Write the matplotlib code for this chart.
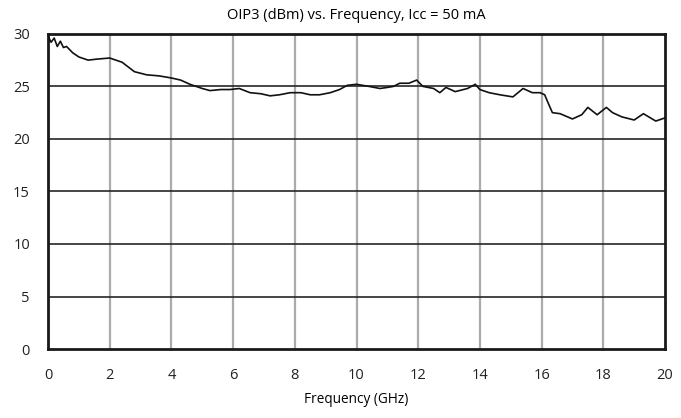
import matplotlib
matplotlib.use('Agg')
import matplotlib.pyplot as plt

# OIP3 vs frequency
freq = [0.0, 0.1, 0.2, 0.3, 0.4, 0.5, 0.6, 0.7, 0.8, 1.0, 1.3, 1.6, 2.0,
        2.4, 2.8, 3.2, 3.6, 4.0, 4.3, 4.6, 5.0, 5.25, 5.6, 5.9, 6.2, 6.55,
        6.9, 7.2, 7.5, 7.85, 8.2, 8.5, 8.8, 9.15, 9.45, 9.7, 10.0, 10.4,
        10.76, 11.0, 11.2, 11.4, 11.7, 11.95, 12.15, 12.5, 12.7, 12.9, 13.2,
        13.6, 13.85, 14.0, 14.3, 14.65, 15.07, 15.4, 15.7, 15.95, 16.1, 16.2,
        16.35, 16.6, 17.0, 17.3, 17.5, 17.8, 18.1, 18.3, 18.6, 19.0, 19.3,
        19.7, 20.0]
oip3 = [29.8, 29.2, 29.6, 28.8, 29.3, 28.7, 28.8, 28.5, 28.2, 27.8, 27.5,
        27.6, 27.7, 27.3, 26.4, 26.1, 26.0, 25.8, 25.6, 25.2, 24.8, 24.6,
        24.7, 24.7, 24.8, 24.4, 24.3, 24.1, 24.2, 24.4, 24.4, 24.2, 24.2,
        24.4, 24.7, 25.1, 25.2, 25.0, 24.8, 24.9, 25.0, 25.3, 25.3, 25.6,
        25.0, 24.8, 24.4, 24.9, 24.5, 24.8, 25.2, 24.7, 24.4, 24.2, 24.0,
        24.8, 24.4, 24.4, 24.2, 23.5, 22.5, 22.4, 21.9, 22.3, 23.0, 22.3,
        23.0, 22.5, 22.1, 21.8, 22.4, 21.7, 22.0]

xticks = list(range(0, 21, 2))
yticks = list(range(0, 31, 5))

plt.rcParams['font.family'] = ['Open Sans', 'DejaVu Sans']

fig = plt.figure(figsize=(6.81, 4.18), dpi=100)
ax = fig.add_axes([0.0705, 0.165, 0.906, 0.754])

for x in xticks[1:-1]:
    ax.axvline(x, color='#ababab', lw=1.6, zorder=1)
for y in yticks[1:-1]:
    ax.axhline(y, color='#262626', lw=1.2, zorder=1)

ax.plot(freq, oip3, color='#111111', lw=1.2, zorder=3)

ax.set_xlim(0, 20)
ax.set_ylim(0, 30)
ax.set_xticks(xticks)
ax.set_yticks(yticks)
ax.tick_params(length=0, labelsize=10.5, colors='#222222')
ax.tick_params(axis='x', pad=14)
ax.tick_params(axis='y', pad=13)
for s in ax.spines.values():
    s.set_linewidth(2)
    s.set_color('#1a1a1a')

ax.set_title('OIP3 (dBm) vs. Frequency, Icc = 50 mA', fontsize=10.5, pad=11)
ax.set_xlabel('Frequency (GHz)', fontsize=9.8, labelpad=6)

fig.savefig('out.png', dpi=100)
